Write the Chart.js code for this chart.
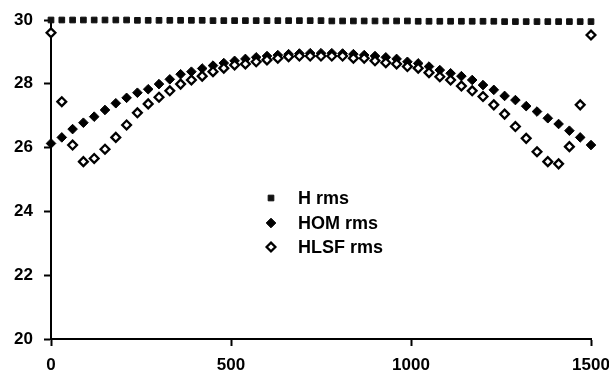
<!DOCTYPE html>
<html>
<head>
<meta charset="utf-8">
<script src="https://cdn.jsdelivr.net/npm/chart.js@4.4.1/dist/chart.umd.min.js"></script>
<style>
  html, body { margin: 0; padding: 0; background: #fff; }
  #wrap { width: 609px; height: 378px; position: relative; }
</style>
</head>
<body>
<div id="wrap"><canvas id="rmsChart" width="609" height="378"></canvas></div>
<script>
// positions along the track (x)
const positions = [0, 30, 60, 90, 120, 150, 180, 210, 240, 270,
  300, 330, 360, 390, 420, 450, 480, 510, 540, 570,
  600, 630, 660, 690, 720, 750, 780, 810, 840, 870,
  900, 930, 960, 990, 1020, 1050, 1080, 1110, 1140, 1170,
  1200, 1230, 1260, 1290, 1320, 1350, 1380, 1410, 1440, 1470, 1500];

const hRms = [30.0, 30.0, 30.0, 30.0, 30.0, 30.0, 30.0, 30.0, 29.99, 29.99,
  29.99, 29.99, 29.99, 29.99, 29.99, 29.98, 29.98, 29.98, 29.98, 29.98,
  29.98, 29.98, 29.98, 29.98, 29.98, 29.98, 29.97, 29.97, 29.97, 29.97,
  29.97, 29.97, 29.97, 29.97, 29.96, 29.96, 29.96, 29.96, 29.96, 29.96,
  29.96, 29.96, 29.95, 29.95, 29.95, 29.95, 29.95, 29.95, 29.95, 29.95, 29.95];

const homRms = [26.13, 26.32, 26.58, 26.78, 26.97, 27.18, 27.39, 27.56, 27.72, 27.83,
  27.99, 28.14, 28.30, 28.38, 28.48, 28.57, 28.65, 28.72, 28.78, 28.83,
  28.87, 28.90, 28.93, 28.95, 28.96, 28.96, 28.96, 28.95, 28.93, 28.90,
  28.87, 28.83, 28.78, 28.69, 28.64, 28.54, 28.43, 28.33, 28.24, 28.12,
  27.96, 27.81, 27.62, 27.49, 27.30, 27.13, 26.92, 26.74, 26.53, 26.32, 26.08];

const hlsfRms = [29.60, 27.44, 26.08, 25.56, 25.66, 25.95, 26.32, 26.71, 27.09, 27.37,
  27.58, 27.78, 27.99, 28.12, 28.24, 28.38, 28.49, 28.59, 28.62, 28.69,
  28.75, 28.80, 28.85, 28.87, 28.87, 28.87, 28.87, 28.87, 28.80, 28.80,
  28.72, 28.66, 28.62, 28.54, 28.49, 28.35, 28.22, 28.12, 27.93, 27.78,
  27.60, 27.34, 27.05, 26.66, 26.29, 25.87, 25.56, 25.49, 26.03, 27.34, 29.53];

const seriesNames = ['H rms', 'HOM rms', 'HLSF rms'];
const yTicks = [20, 22, 24, 26, 28, 30];
const xTicks = [0, 500, 1000, 1500];

const toPoints = (vals) => vals.map((v, i) => ({ x: positions[i], y: v }));

// marker shapes, shared by points and legend
const markers = [
  { pointStyle: 'rect', radius: 4, backgroundColor: '#111', borderColor: '#111', borderWidth: 1 },
  { pointStyle: 'rectRot', radius: 4.8, backgroundColor: '#000', borderColor: '#000', borderWidth: 1 },
  { pointStyle: 'rectRot', radius: 4.4, backgroundColor: '#fff', borderColor: '#000', borderWidth: 2.3 },
];

const drawMarker = (ctx, m, x, y) => {
  ctx.save();
  ctx.beginPath();
  if (m.pointStyle === 'rect') {
    const s = Math.SQRT1_2 * m.radius;
    ctx.rect(x - s, y - s, 2 * s, 2 * s);
  } else {
    const r = m.radius;
    ctx.moveTo(x, y - r);
    ctx.lineTo(x + r, y);
    ctx.lineTo(x, y + r);
    ctx.lineTo(x - r, y);
    ctx.closePath();
  }
  ctx.fillStyle = m.backgroundColor;
  ctx.fill();
  ctx.lineWidth = m.borderWidth;
  ctx.strokeStyle = m.borderColor;
  ctx.stroke();
  ctx.restore();
};

// legend sits inside the plot, under the curve
const innerLegend = {
  id: 'innerLegend',
  afterDraw(chart) {
    const { ctx } = chart;
    const rowsY = [198, 223, 247];
    ctx.save();
    ctx.font = 'bold 18px "Liberation Sans", Arial, sans-serif';
    ctx.fillStyle = '#000';
    ctx.textBaseline = 'middle';
    seriesNames.forEach((name, i) => {
      drawMarker(ctx, markers[i], 271, rowsY[i]);
      ctx.fillText(name, 298, rowsY[i] + 1);
    });
    ctx.restore();
  },
};

const tickFont = { family: '"Liberation Sans", Arial, sans-serif', size: 17, weight: 'bold' };

const datasets = [hRms, homRms, hlsfRms].map((vals, i) => ({
  label: seriesNames[i],
  data: toPoints(vals),
  showLine: false,
  clip: false,
  order: 2 - i,
  pointStyle: markers[i].pointStyle,
  pointRadius: markers[i].radius,
  pointBackgroundColor: markers[i].backgroundColor,
  pointBorderColor: markers[i].borderColor,
  pointBorderWidth: markers[i].borderWidth,
}));

new Chart(document.getElementById('rmsChart'), {
  type: 'scatter',
  data: { datasets },
  plugins: [innerLegend],
  options: {
    responsive: false,
    animation: false,
    events: [],
    layout: { padding: { top: 20, right: 18, left: 0, bottom: 0 } },
    plugins: { legend: { display: false }, tooltip: { enabled: false } },
    scales: {
      x: {
        type: 'linear',
        min: 0,
        max: 1500,
        afterFit: (scale) => {
          scale.height = 39;
          scale.paddingLeft = 0;
          scale.paddingRight = 0;
        },
        afterBuildTicks: (scale) => { scale.ticks = xTicks.map((v) => ({ value: v })); },
        border: { color: '#000', width: 2 },
        grid: { drawOnChartArea: false, drawTicks: true, tickLength: 7, tickColor: '#000', tickWidth: 2 },
        ticks: { color: '#000', font: tickFont, padding: 9, maxRotation: 0, callback: (v) => String(v) },
      },
      y: {
        type: 'linear',
        min: 20,
        max: 30,
        afterFit: (scale) => {
          scale.width = 51;
          scale.paddingTop = 0;
          scale.paddingBottom = 0;
        },
        afterBuildTicks: (scale) => { scale.ticks = yTicks.map((v) => ({ value: v })); },
        border: { color: '#000', width: 2 },
        grid: { drawOnChartArea: false, drawTicks: true, tickLength: 7, tickColor: '#000', tickWidth: 2 },
        ticks: { color: '#000', font: tickFont, padding: 11, callback: (v) => String(v) },
      },
    },
  },
});
</script>
</body>
</html>
